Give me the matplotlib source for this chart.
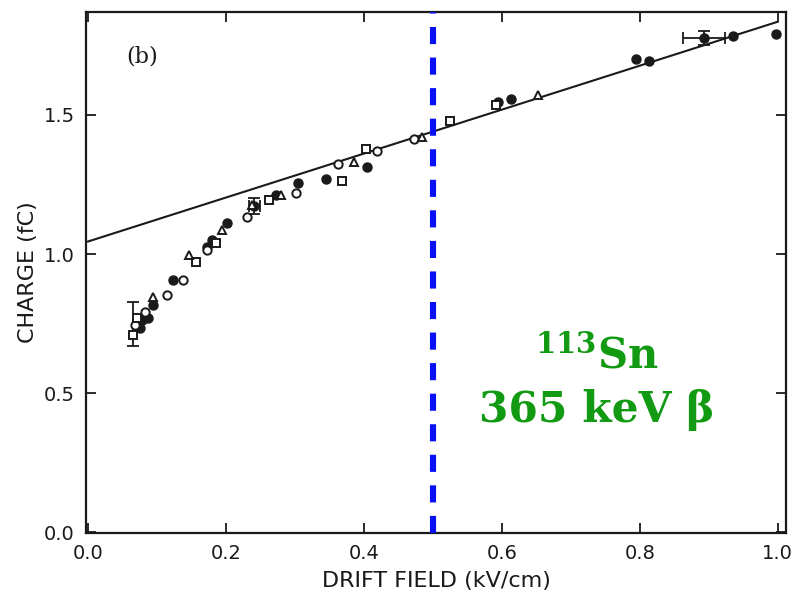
import numpy as np
import matplotlib
matplotlib.use("Agg")
import matplotlib.pyplot as plt

# charge vs drift field
filled_x = [0.075, 0.078, 0.087, 0.094, 0.123, 0.172, 0.179, 0.201, 0.241, 0.273,
            0.305, 0.345, 0.405, 0.594, 0.613, 0.795, 0.814, 0.893, 0.935, 0.997]
filled_y = [0.734, 0.763, 0.770, 0.817, 0.906, 1.025, 1.050, 1.110, 1.173, 1.212,
            1.255, 1.270, 1.313, 1.547, 1.558, 1.701, 1.694, 1.777, 1.784, 1.791]

open_x = [0.068, 0.082, 0.114, 0.137, 0.172, 0.231, 0.302, 0.363, 0.419, 0.473]
open_y = [0.745, 0.791, 0.853, 0.906, 1.014, 1.133, 1.219, 1.324, 1.370, 1.414]

square_x = [0.065, 0.071, 0.156, 0.186, 0.262, 0.368, 0.403, 0.525, 0.592]
square_y = [0.709, 0.770, 0.971, 1.040, 1.194, 1.262, 1.378, 1.478, 1.536]

tri_x = [0.094, 0.146, 0.194, 0.237, 0.280, 0.386, 0.484, 0.653]
tri_y = [0.845, 0.996, 1.086, 1.176, 1.212, 1.331, 1.421, 1.572]

err_x = [0.065, 0.241, 0.893]
err_y = [0.709, 1.173, 1.777]
err_ylo = [0.04, 0.03, 0.025]
err_yhi = [0.12, 0.03, 0.025]
err_xerr = [0.0, 0.008, 0.03]

fit_x = [0.0, 1.0]
fit_y = [1.045, 1.835]

cut_x = 0.5

ink = "#1a1a1a"
plt.rcParams["font.family"] = ["DejaVu Sans"]
plt.rcParams["mathtext.fontset"] = "dejavuserif"

fig = plt.figure(figsize=(7.94, 5.94), dpi=100)
ax = fig.add_axes([86 / 794, 61 / 594, 700 / 794, 521 / 594])

ax.plot(fit_x, fit_y, color=ink, lw=1.5, zorder=2)

ax.errorbar(err_x, err_y, yerr=[err_ylo, err_yhi], xerr=err_xerr, fmt="none",
            ecolor=ink, elinewidth=1.3, capsize=4, capthick=1.3, zorder=3)

ms = 6
ax.plot(filled_x, filled_y, "o", color=ink, ms=ms + 0.5, zorder=4)
ax.plot(open_x, open_y, "o", mfc="white", mec=ink, mew=1.4, ms=ms, zorder=4)
ax.plot(square_x, square_y, "s", mfc="white", mec=ink, mew=1.4, ms=ms, zorder=4)
ax.plot(tri_x, tri_y, "^", mfc="white", mec=ink, mew=1.4, ms=ms, zorder=4)

ax.axvline(cut_x, color="#0a10f5", lw=4.4, dashes=(2.8, 2.2), zorder=5)

ax.set_xlim(-0.003, 1.012)
ax.set_ylim(-0.003, 1.87)
ax.set_xticks([0.0, 0.2, 0.4, 0.6, 0.8, 1.0])
ax.set_yticks([0.0, 0.5, 1.0, 1.5])
ax.tick_params(direction="in", top=True, right=True, length=7, width=1.3,
               color=ink, labelcolor=ink, labelsize=14, pad=8)
for s in ax.spines.values():
    s.set_linewidth(1.6)
    s.set_color(ink)

ax.set_xlabel("DRIFT FIELD (kV/cm)", fontsize=16, color=ink, labelpad=6)
ax.set_ylabel("CHARGE (fC)", fontsize=16, color=ink, labelpad=4)

ax.text(0.055, 1.69, "(b)", family="DejaVu Serif", fontsize=16, color=ink)

green = "#129a12"
ax.text(0.737, 0.63, r"$\mathbf{{}^{113}Sn}$", fontsize=30, color=green,
        ha="center", va="center")
ax.text(0.737, 0.44, "365 keV β", family="DejaVu Serif", weight="bold",
        fontsize=30.5, color=green, ha="center", va="center")

fig.savefig("out.png", dpi=100)
